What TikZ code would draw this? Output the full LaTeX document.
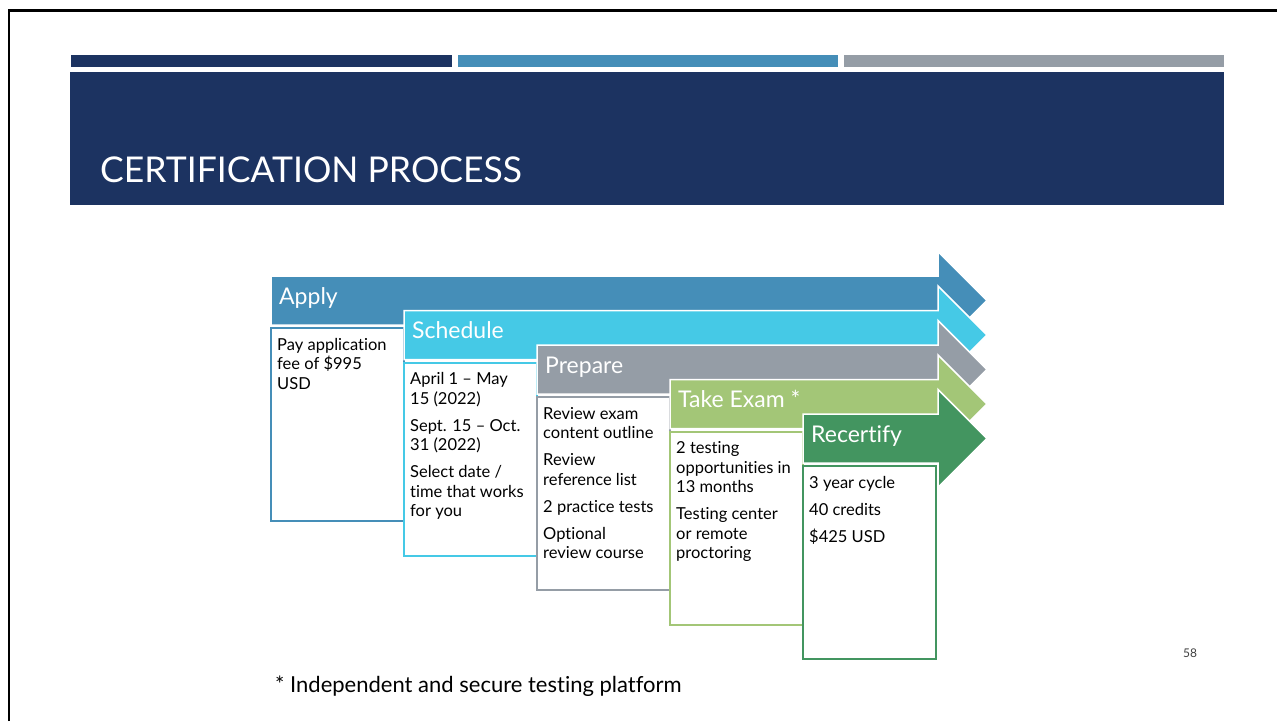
\documentclass[tikz,border=0pt]{standalone}
\usepackage{fontspec}
\setmainfont{Lato}[Ligatures=NoCommon]
\definecolor{navy}{RGB}{28,51,97}
\definecolor{cApply}{RGB}{69,142,184}
\definecolor{cSched}{RGB}{69,201,230}
\definecolor{cPrep}{RGB}{149,157,166}
\definecolor{cExam}{RGB}{163,198,119}
\definecolor{cRecert}{RGB}{67,149,96}
\definecolor{pgnum}{RGB}{64,64,64}
\tikzset{
  bandarrow/.style={fill=#1, draw=white, line width=1.5pt, line join=miter},
  bodybox/.style={fill=white, draw=#1, line width=2pt},
  headtext/.style={anchor=base west, inner sep=0pt, text=white, font=\fontsize{23}{26}\selectfont},
  bodytext/.style={anchor=north west, inner sep=0pt, align=left, text=black, font=\fontsize{16.5}{19.5}\selectfont},
}
\newcommand\bstrut{\rule{0pt}{13pt}}
% #1 name, #2 colour, #3 left x, #4 top y, #5 heading, #6 body
\newcommand\procstage[6]{%
  \pgfmathsetmacro\tb{#4+49}%
  \pgfmathsetmacro\tc{#4+24.5}%
  \fill[bandarrow=#2] (#3,#4) -- (938,#4) -- (938,\tc-49) -- (987,\tc) -- (938,\tc+49) -- (938,\tb) -- (#3,\tb) -- cycle;
  \draw[bodybox=#2] (#3,#4+52) rectangle (#3+133,#4+245);
  \node[headtext] (#1head) at (#3+8,#4+28) {#5};
  \node[bodytext] (#1body) at (#3+6,#4+61) {\bstrut#6};
}
\begin{document}
\begin{tikzpicture}[x=1pt,y=-1pt]
\useasboundingbox (0,0) rectangle (1277,721);
\fill[white] (0,0) rectangle (1277,721);
% slide frame
\draw[line width=2.5pt, black] (9,721) -- (9,10.5) -- (1277,10.5);
% top bars
\fill[navy] (71,55) rectangle (452,67);
\fill[cApply] (458,55) rectangle (838,67);
\fill[cPrep] (844,55) rectangle (1224,67);
\fill[navy] (70,72) rectangle (1224,205);
\node[anchor=base west, inner sep=0pt, text=white, font=\fontsize{35.5}{40}\selectfont] (title) at (100,182) {CERTIFICATION PROCESS};
% stages
\procstage{apply}{cApply}{271}{276}{Apply}{Pay application\\fee of \$995\\USD}
\procstage{sched}{cSched}{404}{310.5}{Schedule}{April 1 – May\\15 (2022)\\[7.5pt]Sept. 15 – Oct.\\31 (2022)\\[7.5pt]Select date /\\time that works\\for you}
\procstage{prep}{cPrep}{537}{345}{Prepare}{Review exam\\content outline\\[7.5pt]Review\\reference list\\[7.5pt]2 practice tests\\[7.5pt]Optional\\review course}
\procstage{exam}{cExam}{670}{379.5}{Take Exam *}{2 testing\\opportunities in\\13 months\\[7.5pt]Testing center\\or remote\\proctoring}
\procstage{recert}{cRecert}{803}{414}{Recertify}{3 year cycle\\[7.5pt]40 credits\\[7.5pt]\$425 USD}
% footnote and page number
\node[anchor=base west, inner sep=0pt, font=\fontsize{22}{24}\selectfont] (foot) at (275,692) {* Independent and secure testing platform};
\node[anchor=base west, inner sep=0pt, text=pgnum, font=\fontsize{12}{14}\selectfont] (page) at (1183,657) {58};
\end{tikzpicture}
\end{document}
